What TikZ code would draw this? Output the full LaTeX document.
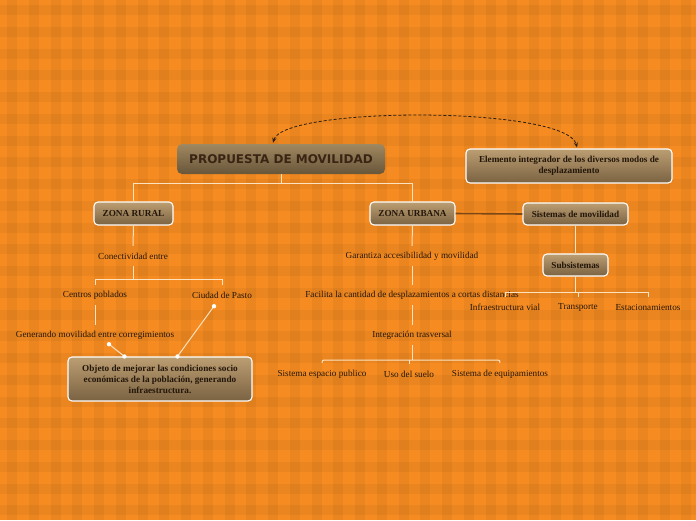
\documentclass[tikz,border=0pt]{standalone}
\usepackage{fontspec}
\setmainfont{Liberation Serif}
\newfontfamily\titlefont{DejaVu Sans}
\usetikzlibrary{calc,arrows.meta}
\definecolor{bgorange}{RGB}{246,140,33}
\definecolor{boxtop}{RGB}{188,158,114}
\definecolor{boxbot}{RGB}{122,98,66}
\definecolor{maintop}{RGB}{160,136,96}
\definecolor{mainbot}{RGB}{104,86,58}
\definecolor{txt}{RGB}{35,22,10}
\definecolor{titletxt}{RGB}{58,36,20}
\definecolor{wire}{RGB}{252,226,190}
\definecolor{brownline}{RGB}{125,72,22}
\definecolor{dashc}{RGB}{45,30,15}
\begin{document}
\begin{tikzpicture}[x=1pt,y=-1pt,
 box/.style={draw=white, line width=1.1pt, rounded corners=4pt, top color=boxtop, bottom color=boxbot, inner sep=0pt, align=center, text=txt, font=\fontsize{9.2}{11}\selectfont\bfseries},
 mainbox/.style={rounded corners=5pt, top color=maintop, bottom color=mainbot, inner sep=0pt, text=titletxt, font=\titlefont\fontsize{12}{14}\selectfont\bfseries, minimum width=208pt, minimum height=30pt},
 lbl/.style={inner sep=0pt, minimum height=20pt, text=txt, font=\fontsize{9.2}{10}\selectfont},
 wireline/.style={draw=wire, line width=1pt},
 stripe/.style={fill=black, fill opacity=0.045}
]
\useasboundingbox (0,0) rectangle (696,520);
\fill[bgorange] (0,0) rectangle (696,520);
\foreach \i in {0,...,32} {\fill[stripe] ({7+21.75*\i},0) rectangle ++(10,520);}
\foreach \i in {0,...,24} {\fill[stripe] (0,{5+21.75*\i}) rectangle ++(696,10);}

% boxes
\node[mainbox] (main) at (281,159) {PROPUESTA DE MOVILIDAD};
\node[box, minimum width=206pt, minimum height=34pt] (elem) at (569,166) {Elemento integrador de los diversos modos de\\desplazamiento};
\node[box, minimum width=79pt, minimum height=23pt] (rural) at (133.5,213.5) {ZONA RURAL};
\node[box, minimum width=85pt, minimum height=23pt] (urbana) at (412.5,213.5) {ZONA URBANA};
\node[box, minimum width=105pt, minimum height=22pt] (sist) at (575.5,214) {Sistemas de movilidad};
\node[box, minimum width=65pt, minimum height=22pt] (subs) at (575.5,265) {Subsistemas};
\node[box, minimum width=184pt, minimum height=44pt] (obj) at (160,379) {Objeto de mejorar las condiciones socio\\económicas de la población, generando\\infraestructura.};

% labels
\node[lbl] (con) at (133,256) {Conectividad entre};
\node[lbl] (cen) at (95,295) {Centros poblados};
\node[lbl] (ciu) at (222,295) {Ciudad de Pasto};
\node[lbl] (gen) at (95,335) {Generando movilidad entre corregimientos};
\node[lbl] (gar) at (412,256) {Garantiza accesibilidad y movilidad};
\node[lbl] (fac) at (412,295) {Facilita la cantidad de desplazamientos a cortas distancias};
\node[lbl] (int) at (412,335) {Integración trasversal};
\node[lbl] (sep) at (322,374) {Sistema espacio publico};
\node[lbl] (uso) at (409,374) {Uso del suelo};
\node[lbl] (equ) at (500,374) {Sistema de equipamientos};
\node[lbl] (inf) at (505,307) {Infraestructura vial};
\node[lbl] (tra) at (578,307) {Transporte};
\node[lbl] (est) at (648,307) {Estacionamientos};

% connectors
\draw[wireline] (main.south) -- ++(0,9) -| (rural.north);
\draw[wireline] (main.south) -- ++(0,9) -| (urbana.north);
\draw[brownline, line width=1.6pt] (urbana.east) -- (sist.west);
\draw[wireline] (sist.south) -- (subs.north);
\draw[wireline] (subs.south) -- ++(0,16) coordinate (sb) -| (inf.north);
\draw[wireline] (sb) -| (tra.north);
\draw[wireline] (sb) -| (est.north);

\draw[wireline] (rural.south) -- (con.north);
\draw[wireline] (con.south) -- ++(0,13) coordinate (cb) -| (cen.north);
\draw[wireline] (cb) -| (ciu.north);
\draw[wireline] (cen.south) -- (gen.north);

\draw[wireline] (urbana.south) -- (gar.north);
\draw[wireline] (gar.south) -- (fac.north);
\draw[wireline] (fac.south) -- (int.north);
\draw[wireline] (int.south) -- ++(0,15) coordinate (ib);
\draw[wireline] ($(sep.north)+(0,-1)$) .. controls ($(sep.north)+(0,-5)$) and ($(sep.north |- ib)+(2,0)$) .. ($(sep.north |- ib)+(10,0)$)
  -- ($(equ.north |- ib)+(-10,0)$) .. controls ($(equ.north |- ib)+(-2,0)$) and ($(equ.north)+(0,-5)$) .. ($(equ.north)+(0,-1)$);
\draw[wireline] (uso.north) -- (uso.north |- ib);

\draw[wireline] ($(gen.south)+(14,-1)$) coordinate (g1) -- ($(obj.north west)+(57,0)$) coordinate (g2);
\draw[wireline] ($(ciu.south)+(-8,1)$) coordinate (c1) -- ($(obj.north west)+(110,0)$) coordinate (c2);
\foreach \p in {g1,g2,c1,c2} {\fill[white] (\p) circle[radius=2.2pt];}

\draw[dashc, line width=0.8pt, dash pattern=on 3pt off 2pt, {Stealth[length=5pt,width=4pt]}-{Stealth[length=5pt,width=4pt]}]
 ($(main.north)+(-8,-1)$) .. controls (283,106) and (567,106) .. ($(elem.north)+(8,-1)$);
\end{tikzpicture}
\end{document}
